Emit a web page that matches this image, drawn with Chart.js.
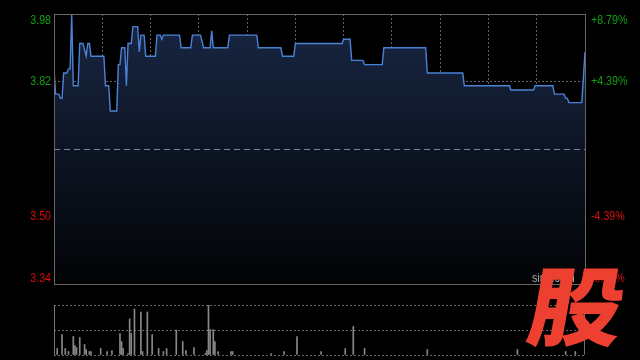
<!DOCTYPE html>
<html>
<head>
<meta charset="utf-8">
<script src="https://cdn.jsdelivr.net/npm/chart.js@4"></script>
<style>
  html, body { margin: 0; padding: 0; background: #000; width: 640px; height: 360px; overflow: hidden; }
  #wrap { position: relative; width: 640px; height: 360px; }
  canvas { position: absolute; left: 0; }
  #price { top: 0; }
  #vol { top: 300px; }
  #site { position: absolute; left: 532px; top: 270px; font: 13px "Liberation Sans", sans-serif; color: #b0b0b0;
          transform: scaleX(0.82); transform-origin: left top; }
  #logo { position: absolute; left: 523px; top: 259px; font: 900 86px "Noto Sans CJK SC"; line-height: 1; color: #ee4030;
          transform: skewX(-10deg) scaleX(1.1); transform-origin: left bottom; }
</style>
</head>
<body>
<div id="wrap">
  <canvas id="price" width="640" height="296"></canvas>
  <canvas id="vol" width="640" height="60"></canvas>
  <div id="site">sina.com</div>
  <div id="logo">股</div>
</div>
<script>
// price change points (minute of session, price)
const priceMinutes = [0, 1, 3, 4, 5, 6, 8, 9, 10, 11, 12, 15, 16, 18, 20, 21, 22, 23, 31, 32, 34, 35, 39, 40, 41, 42, 44, 45, 46, 48, 49, 52, 53, 54, 56, 57, 63, 64, 66, 67, 68, 78, 79, 85, 86, 91, 93, 97, 98, 99, 108, 109, 126, 127, 141, 142, 149, 150, 179, 180, 184, 185, 192, 193, 204, 205, 231, 232, 254, 255, 283, 284, 298, 299, 310, 311, 317, 318, 319, 320, 328, 330];
const prices = [3.85, 3.79, 3.79, 3.78, 3.78, 3.84, 3.84, 3.85, 3.85, 3.98, 3.81, 3.81, 3.91, 3.91, 3.88, 3.91, 3.91, 3.88, 3.88, 3.81, 3.81, 3.75, 3.75, 3.86, 3.86, 3.90, 3.90, 3.81, 3.91, 3.91, 3.95, 3.95, 3.89, 3.93, 3.93, 3.88, 3.88, 3.93, 3.93, 3.92, 3.93, 3.93, 3.90, 3.90, 3.93, 3.93, 3.90, 3.90, 3.94, 3.90, 3.90, 3.93, 3.93, 3.90, 3.90, 3.88, 3.88, 3.91, 3.91, 3.92, 3.92, 3.87, 3.87, 3.86, 3.86, 3.90, 3.90, 3.84, 3.84, 3.81, 3.81, 3.80, 3.80, 3.81, 3.81, 3.79, 3.79, 3.78, 3.78, 3.77, 3.77, 3.89];

// volume bars (minute, relative volume)
const volMinutes = [0, 2, 5, 7, 9, 12, 13, 14, 16, 19, 20, 22, 23, 29, 33, 36, 41, 42, 43, 46, 47, 48, 50, 54, 55, 58, 61, 65, 68, 70, 76, 80, 82, 87, 94, 95, 96, 97, 99, 100, 102, 110, 111, 135, 143, 151, 166, 181, 186, 193, 232, 288, 318, 324, 330];
const volumes = [72, 13, 41, 13, 7, 37, 19, 15, 35, 21, 11, 7, 7, 13, 7, 9, 43, 27, 13, 3, 72, 43, 92, 86, 7, 86, 41, 13, 7, 13, 50, 27, 9, 15, 3, 9, 100, 51, 51, 27, 7, 7, 7, 3, 7, 37, 7, 13, 57, 13, 11, 11, 7, 7, 90];

const prevClose = 3.66;
const priceTicks = [3.98, 3.82, 3.50, 3.34];
const pctTicks = ["+8.79%", "+4.39%", "-4.39%", "-8.79%"];
const timeTicks = [0, 30, 60, 90, 120, 150, 180, 210, 240, 270, 300, 330];

const green = "#12a012";
const red = "#d80c0c";

// narrow label text: regular sans squeezed horizontally
function narrowText(ctx, text, x, y, align) {
  ctx.save();
  ctx.font = '13px "Liberation Sans", Arial, sans-serif';
  ctx.textBaseline = "middle";
  ctx.textAlign = align;
  ctx.translate(x, y);
  ctx.scale(0.82, 1);
  ctx.fillText(text, 0, 0);
  ctx.restore();
}

const priceDecor = {
  id: "priceDecor",
  afterDatasetsDraw(chart) {
    const { ctx, chartArea: a, scales: { y } } = chart;
    ctx.save();
    // previous close line
    const py = Math.round(y.getPixelForValue(prevClose)) + 0.5;
    ctx.strokeStyle = "#7c8594";
    ctx.lineWidth = 1;
    ctx.setLineDash([6, 4]);
    ctx.beginPath(); ctx.moveTo(a.left, py); ctx.lineTo(a.right, py); ctx.stroke();
    ctx.setLineDash([]);
    // frame
    ctx.strokeStyle = "#666";
    ctx.strokeRect(Math.round(a.left) + 0.5, Math.round(a.top) + 0.5, Math.round(a.right - a.left), Math.round(a.bottom - a.top));
    // axis labels
    priceTicks.forEach((v, i) => {
      let ty = y.getPixelForValue(v);
      if (i === 0) ty += 6;
      if (i === priceTicks.length - 1) ty -= 6;
      ctx.fillStyle = v > prevClose ? green : red;
      narrowText(ctx, v.toFixed(2), a.left - 3, ty, "right");
      narrowText(ctx, pctTicks[i], a.right + 6, ty, "left");
    });
    ctx.restore();
  }
};

new Chart(document.getElementById("price"), {
  type: "line",
  data: {
    datasets: [{
      data: priceMinutes.map((m, i) => ({ x: m, y: prices[i] })),
      borderColor: "#4b82d6",
      borderWidth: 1.4,
      pointRadius: 0,
      tension: 0,
      fill: "start",
      backgroundColor: (c) => {
        const a = c.chart.chartArea;
        if (!a) return "rgba(0,0,0,0)";
        const g = c.chart.ctx.createLinearGradient(0, a.top, 0, a.bottom);
        g.addColorStop(0, "rgb(25,39,68)");
        g.addColorStop(1, "rgb(2,3,5)");
        return g;
      }
    }]
  },
  options: {
    responsive: false,
    animation: false,
    layout: { padding: { left: 54, right: 55, top: 14, bottom: 12 } },
    plugins: { legend: { display: false }, tooltip: { enabled: false } },
    scales: {
      x: {
        type: "linear", min: 0, max: 330,
        afterBuildTicks: (s) => { s.ticks = timeTicks.map(v => ({ value: v })); },
        ticks: { display: false },
        grid: { color: "#606060", drawTicks: false },
        border: { display: false, dash: [2, 2] }
      },
      y: {
        min: 3.34, max: 3.98,
        afterBuildTicks: (s) => { s.ticks = priceTicks.map(v => ({ value: v })); },
        ticks: { display: false },
        grid: { color: "#606060", drawTicks: false },
        border: { display: false, dash: [2, 2] }
      }
    }
  },
  plugins: [priceDecor]
});

const volFrame = {
  id: "volFrame",
  afterDraw(chart) {
    const { ctx, chartArea: a } = chart;
    ctx.save();
    ctx.strokeStyle = "#777";
    ctx.lineWidth = 1;
    const x = Math.round(a.left) + 0.5;
    ctx.beginPath(); ctx.moveTo(x, a.top); ctx.lineTo(x, a.bottom); ctx.stroke();
    ctx.restore();
  }
};

new Chart(document.getElementById("vol"), {
  type: "bar",
  data: {
    datasets: [{
      data: volMinutes.map((m, i) => ({ x: m, y: volumes[i] })),
      backgroundColor: "#888",
      barThickness: 1
    }]
  },
  options: {
    responsive: false,
    animation: false,
    layout: { padding: { left: 54, right: 55, top: 5, bottom: 5 } },
    plugins: { legend: { display: false }, tooltip: { enabled: false } },
    scales: {
      x: {
        type: "linear", min: 0, max: 330, offset: false,
        ticks: { display: false },
        grid: { display: false, drawTicks: false },
        border: { display: false }
      },
      y: {
        min: 0, max: 100,
        ticks: { display: false, stepSize: 50 },
        grid: { color: "#666", drawTicks: false },
        border: { display: false, dash: [2, 2] }
      }
    }
  },
  plugins: [volFrame]
});
</script>
</body>
</html>
